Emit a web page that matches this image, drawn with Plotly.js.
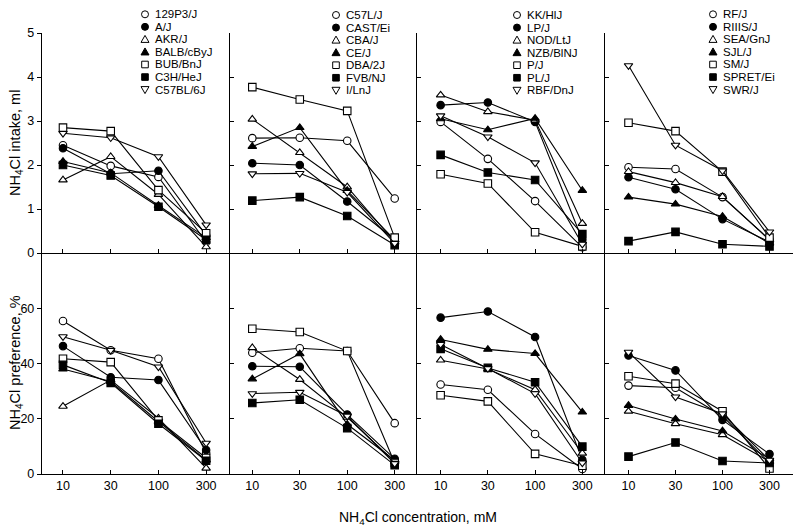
<!DOCTYPE html>
<html>
<head>
<meta charset="utf-8">
<script src="https://cdn.plot.ly/plotly-3.0.1.min.js"></script>
<style>
  html, body { margin: 0; padding: 0; background: #fff; }
  #chart { width: 800px; height: 532px; }
</style>
</head>
<body>
<div id="chart"></div>
<script>
// ---- data ----
const conc = ['10', '30', '100', '300'];

const strains1 = ['129P3/J', 'A/J', 'AKR/J', 'BALB/cByJ', 'BUB/BnJ', 'C3H/HeJ', 'C57BL/6J'];
const strains2 = ['C57L/J', 'CAST/Ei', 'CBA/J', 'CE/J', 'DBA/2J', 'FVB/NJ', 'I/LnJ'];
const strains3 = ['KK/HlJ', 'LP/J', 'NOD/LtJ', 'NZB/BlNJ', 'P/J', 'PL/J', 'RBF/DnJ'];
const strains4 = ['RF/J', 'RIIIS/J', 'SEA/GnJ', 'SJL/J', 'SM/J', 'SPRET/Ei', 'SWR/J'];

// NH4Cl intake, ml
const intake1 = [
  [2.45, 1.98, 1.73, 0.25], [2.38, 1.80, 1.87, 0.40], [1.66, 2.19, 1.33, 0.14],
  [2.08, 1.82, 1.08, 0.35], [2.85, 2.77, 1.43, 0.45], [2.00, 1.76, 1.05, 0.30],
  [2.72, 2.62, 2.19, 0.64]
];
const intake2 = [
  [2.61, 2.62, 2.55, 1.24], [2.04, 2.00, 1.17, 0.30], [3.04, 2.28, 1.50, 0.25],
  [2.42, 2.85, 1.42, 0.30], [3.77, 3.49, 3.23, 0.35], [1.19, 1.27, 0.84, 0.18],
  [1.80, 1.81, 1.38, 0.22]
];
const intake3 = [
  [2.98, 2.14, 1.18, 0.13], [3.36, 3.42, 2.98, 0.30], [3.59, 3.21, 3.02, 0.67],
  [3.05, 2.80, 3.06, 1.42], [1.79, 1.58, 0.47, 0.15], [2.23, 1.83, 1.66, 0.43],
  [3.12, 2.64, 2.05, 0.20]
];
const intake4 = [
  [1.95, 1.91, 1.27, 0.30], [1.72, 1.45, 0.77, 0.25], [1.85, 1.60, 1.28, 0.30],
  [1.27, 1.11, 0.83, 0.22], [2.96, 2.77, 1.85, 0.35], [0.27, 0.48, 0.20, 0.15],
  [4.26, 2.45, 1.87, 0.48]
];

// NH4Cl preference, %
const pref1 = [
  [55.4, 44.8, 41.7, 7.6], [46.3, 35.0, 34.0, 8.7], [24.5, 34.0, 20.2, 2.1],
  [38.0, 33.5, 19.0, 5.0], [41.7, 40.5, 19.4, 5.8], [39.5, 33.0, 18.2, 4.8],
  [49.7, 44.8, 38.8, 11.2]
];
const pref2 = [
  [43.9, 45.5, 44.5, 18.4], [39.0, 38.8, 21.5, 5.5], [45.7, 34.2, 20.5, 4.5],
  [34.4, 43.5, 18.0, 5.0], [52.6, 51.4, 44.5, 4.0], [25.7, 26.9, 16.6, 3.2],
  [29.1, 29.6, 21.0, 3.8]
];
const pref3 = [
  [32.4, 30.5, 14.5, 1.8], [56.6, 58.8, 49.6, 5.1], [41.2, 38.0, 30.5, 7.5],
  [48.7, 45.1, 43.6, 22.4], [28.5, 26.3, 7.3, 3.0], [45.3, 38.4, 33.2, 9.9],
  [46.9, 38.2, 29.1, 4.0]
];
const pref4 = [
  [32.0, 31.2, 21.0, 4.0], [42.9, 37.5, 19.6, 7.2], [22.7, 18.2, 14.2, 4.5],
  [24.8, 19.9, 15.6, 5.5], [35.4, 32.7, 22.7, 2.0], [6.3, 11.4, 4.7, 4.0],
  [44.1, 27.9, 21.8, 5.0]
];

// marker style per strain slot (same order in every panel)
const symbols = ['circle', 'circle', 'triangle-up', 'triangle-up', 'square', 'square', 'triangle-down'];
const fills = ['#fff', '#000', '#fff', '#000', '#fff', '#000', '#fff'];

const panels = [
  { names: strains1, intake: intake1, pref: pref1 },
  { names: strains2, intake: intake2, pref: pref2 },
  { names: strains3, intake: intake3, pref: pref3 },
  { names: strains4, intake: intake4, pref: pref4 }
];

// ---- geometry (pixels in the 800x532 page) ----
const W = 800, H = 532;
const px = x => x / W;
const py = y => 1 - y / H;
const colEdges = [42, 230, 417, 605, 793];
const topRow = [33, 253], botRow = [253, 474];
const xRanges = [[-0.44, 3.5], [-0.47, 3.47], [-0.5, 3.48], [-0.5, 3.5]];
const legendPos = [
  { mx: 145, tx: 153, y0: 14.3 },
  { mx: 336, tx: 344, y0: 15 },
  { mx: 517, tx: 525, y0: 15 },
  { mx: 713, tx: 721, y0: 14.3 }
];
const rowGap = 12.55;

const FONT = 'Liberation Sans, Arial, Helvetica, sans-serif';

const traces = [];
const layout = {
  width: W, height: H,
  margin: { l: 0, r: 0, t: 0, b: 0 },
  paper_bgcolor: '#fff', plot_bgcolor: 'rgba(0,0,0,0)',
  font: { family: FONT, color: '#000', size: 12 },
  showlegend: false,
  shapes: [],
  annotations: []
};

function xAxis(i, labels) {
  return {
    type: 'category',
    domain: [px(colEdges[i]), px(colEdges[i + 1])],
    range: xRanges[i],
    showline: true, linecolor: '#000', linewidth: 1.2,
    ticks: 'inside', ticklen: 4, tickcolor: '#000', tickwidth: 1,
    showgrid: false, zeroline: false,
    showticklabels: labels,
    tickfont: { size: 12.5, family: FONT, color: '#000' },
    fixedrange: true
  };
}

function yAxis(i, row, range, tickvals) {
  return {
    domain: [py(row[1]), py(row[0])],
    range: range,
    tickvals: tickvals,
    showline: true, linecolor: '#000', linewidth: 1.2,
    ticks: i === 0 ? 'outside' : 'inside', ticklen: 4, tickcolor: '#000', tickwidth: 1,
    showgrid: false, zeroline: false,
    showticklabels: i === 0,
    tickfont: { size: 12.5, family: FONT, color: '#000' },
    fixedrange: true
  };
}

panels.forEach((p, i) => {
  const tIdx = i + 1, bIdx = i + 5;
  const tx = 'x' + (tIdx === 1 ? '' : tIdx), ty = 'y' + (tIdx === 1 ? '' : tIdx);
  const bx = 'x' + bIdx, by = 'y' + bIdx;

  const xt = xAxis(i, false); xt.anchor = ty;
  const yt = yAxis(i, topRow, [0, 5], [0, 1, 2, 3, 4, 5]); yt.anchor = tx;
  const xb = xAxis(i, true); xb.anchor = by;
  const yb = yAxis(i, botRow, [0, 80], [0, 20, 40, 60]); yb.anchor = bx;

  layout['xaxis' + (tIdx === 1 ? '' : tIdx)] = xt;
  layout['yaxis' + (tIdx === 1 ? '' : tIdx)] = yt;
  layout['xaxis' + bIdx] = xb;
  layout['yaxis' + bIdx] = yb;

  p.names.forEach((name, k) => {
    const marker = {
      symbol: symbols[k], size: 7.5, color: fills[k],
      line: { color: '#000', width: 1.1 }
    };
    traces.push({
      x: conc, y: p.intake[k], xaxis: tx, yaxis: ty, name: name,
      mode: 'lines+markers', line: { color: '#000', width: 1.1 }, marker: marker,
      cliponaxis: false
    });
    traces.push({
      x: conc, y: p.pref[k], xaxis: bx, yaxis: by, name: name,
      mode: 'lines+markers', line: { color: '#000', width: 1.1 }, marker: marker,
      cliponaxis: false
    });
  });

  // in-panel legend: drawn symbol + text
  const lp = legendPos[i];
  p.names.forEach((name, k) => {
    const yy = lp.y0 + k * rowGap;
    const base = {
      xref: 'paper', yref: 'paper',
      xsizemode: 'pixel', ysizemode: 'pixel',
      xanchor: px(lp.mx), yanchor: py(yy),
      line: { color: '#000', width: 1 }, fillcolor: fills[k], layer: 'above'
    };
    if (symbols[k] === 'circle') {
      layout.shapes.push(Object.assign({ type: 'circle', x0: -3.5, x1: 3.5, y0: -3.5, y1: 3.5 }, base));
    } else if (symbols[k] === 'square') {
      layout.shapes.push(Object.assign({ type: 'rect', x0: -3.3, x1: 3.3, y0: -3.3, y1: 3.3 }, base));
    } else if (symbols[k] === 'triangle-up') {
      layout.shapes.push(Object.assign({ type: 'path', path: 'M-4,-3 L4,-3 L0,4 Z' }, base));
    } else {
      layout.shapes.push(Object.assign({ type: 'path', path: 'M-4,3 L4,3 L0,-4 Z' }, base));
    }
    layout.annotations.push({
      xref: 'paper', yref: 'paper', x: px(lp.tx), y: py(yy),
      xanchor: 'left', yanchor: 'middle', showarrow: false,
      text: name, font: { size: 11.5, family: FONT, color: '#000' }
    });
  });
});

// axis titles
layout.annotations.push(
  {
    xref: 'paper', yref: 'paper', x: px(418), y: py(518),
    xanchor: 'center', yanchor: 'middle', showarrow: false,
    text: 'NH<sub>4</sub>Cl concentration, mM', font: { size: 14, family: FONT }
  },
  {
    xref: 'paper', yref: 'paper', x: px(16), y: py(143),
    xanchor: 'center', yanchor: 'middle', showarrow: false, textangle: -90,
    text: 'NH<sub>4</sub>Cl intake, ml', font: { size: 14.5, family: FONT }
  },
  {
    xref: 'paper', yref: 'paper', x: px(16), y: py(363),
    xanchor: 'center', yanchor: 'middle', showarrow: false, textangle: -90,
    text: 'NH<sub>4</sub>Cl preference, %', font: { size: 14.5, family: FONT }
  }
);

Plotly.newPlot('chart', traces, layout, { displayModeBar: false, staticPlot: true });
</script>
</body>
</html>
